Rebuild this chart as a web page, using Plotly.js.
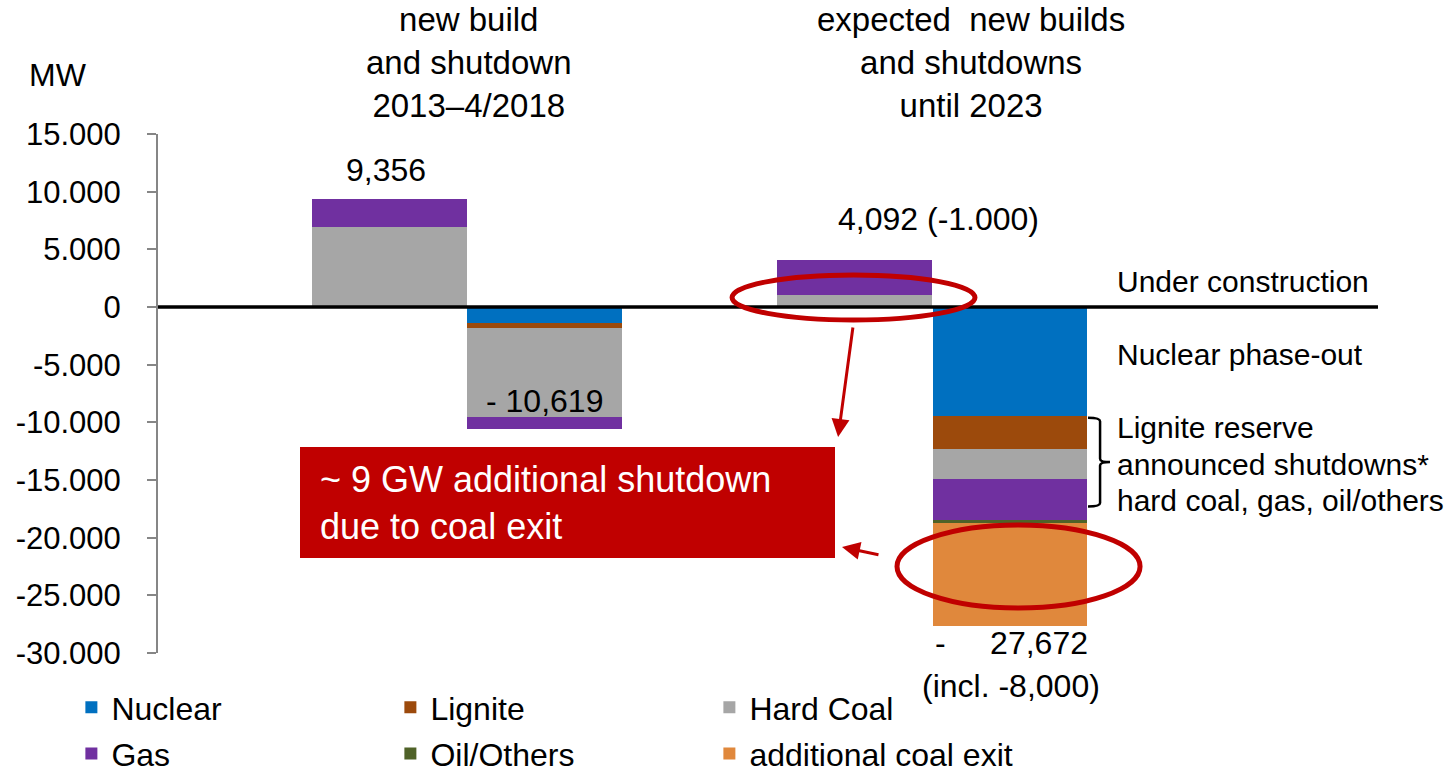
<!DOCTYPE html>
<html>
<head>
<meta charset="utf-8">
<script src="https://cdn.plot.ly/plotly-3.0.1.min.js"></script>
<style>
  html, body { margin: 0; padding: 0; background: #fff; }
  #grafico { width: 1446px; height: 774px; }
</style>
</head>
<body>
<div id="grafico"></div>
<script>
// posições das barras: 2013-4/2018 (novas, desligadas), até 2023 (novas, desligadas)
const barPos = [1, 2, 4, 5];

// MW por fonte em cada barra
const nuclear = [0, -1360, 0, -9450];
const lignite = [0, -430, 0, -2860];
const hardCoal = [6960, -7780, 1040, -2630];
const gas = [2396, -1049, 3052, -3530];
const oilOthers = [0, 0, 0, -230];
const coalExit = [0, 0, 0, -8972];

const seriesNames = ['Nuclear', 'Lignite', 'Hard Coal', 'Gas', 'Oil/Others', 'additional coal exit'];
const seriesColors = ['#0070C0', '#9C4A0C', '#A6A6A6', '#7030A0', '#4F6228', '#E0883C'];

const tickVals = [15000, 10000, 5000, 0, -5000, -10000, -15000, -20000, -25000, -30000];
const tickText = ['15.000', '10.000', '5.000', '0', '-5.000', '-10.000', '-15.000', '-20.000', '-25.000', '-30.000'];

const FONT = 'Liberation Sans, Arial, sans-serif';
const RED = '#C00000';

// as três primeiras séries na 1ª linha da legenda, as outras na 2ª
const data = [nuclear, lignite, hardCoal, gas, oilOthers, coalExit].map((vals, i) => ({
    x: barPos,
    y: vals,
    type: 'bar',
    name: seriesNames[i],
    legend: i < 3 ? 'legend' : 'legend2',
    width: 0.994,
    marker: { color: seriesColors[i], line: { width: 0 } },
    hoverinfo: 'none'
}));

const totals = barPos.map((_, j) => nuclear[j] + lignite[j] + hardCoal[j] + gas[j] + oilOthers[j] + coalExit[j]);

const txt = (text, x, y, extra) => Object.assign({
    text: text, x: x, y: y, xref: 'x', yref: 'y', showarrow: false,
    font: { family: FONT, size: 32, color: '#000' }
}, extra || {});

const rightFont = { family: FONT, size: 30, color: '#000' };
const titleFont = { family: FONT, size: 33, color: '#000' };

const annotations = [
    // títulos das colunas
    txt('new build<br>and shutdown<br>2013–4/2018', 1.51, 1.137, { yref: 'paper', yanchor: 'middle', font: titleFont }),
    txt('expected\u00A0 new builds<br>and shutdowns<br>until 2023', 4.75, 1.137, { yref: 'paper', yanchor: 'middle', font: titleFont }),
    txt('MW', -0.107, 1.114, { xref: 'paper', yref: 'paper', xanchor: 'left', yanchor: 'middle' }),
    // totais
    txt('9,356', 0.98, totals[0], { yshift: 29 }),
    txt('- 10,619', 2, totals[1], { yshift: 28 }),
    txt('4,092 (-1.000)', 4.54, totals[2], { yshift: 41 }),
    txt('-\u00A0\u00A0\u00A0\u00A0 27,672', 5.01, totals[3], { yshift: -17 }),
    txt('(incl. -8,000)', 5.01, totals[3], { yshift: -60 }),
    // textos à direita
    txt('Under construction', 5.68, 2254, { xanchor: 'left', font: rightFont }),
    txt('Nuclear phase-out', 5.68, -4075, { xanchor: 'left', font: rightFont }),
    txt('Lignite reserve', 5.68, -10405, { xanchor: 'left', font: rightFont }),
    txt('announced shutdowns*', 5.68, -13613, { xanchor: 'left', font: rightFont }),
    txt('hard coal, gas, oil/others', 5.68, -16735, { xanchor: 'left', font: rightFont }),
    // caixa vermelha
    txt('~ 9 GW additional shutdown<br>due to coal exit', 0.539, -17000, { xanchor: 'left', align: 'left', font: { family: FONT, size: 36, color: '#fff' } }),
    // setas
    { x: 3.894, y: -11272, xref: 'x', yref: 'y', text: '', showarrow: true, arrowhead: 2, arrowsize: 1.2, arrowwidth: 3, arrowcolor: RED, ax: 15, ay: -111 },
    { x: 3.919, y: -20810, xref: 'x', yref: 'y', text: '', showarrow: true, arrowhead: 2, arrowsize: 1.2, arrowwidth: 3, arrowcolor: RED, ax: 38, ay: 8 }
];

const shapes = [
    // linha do zero
    { type: 'line', xref: 'paper', yref: 'y', x0: 0, x1: 1, y0: 0, y1: 0, line: { color: '#000', width: 3.5 }, layer: 'above' },
    // caixa vermelha
    { type: 'rect', xref: 'x', yref: 'y', x0: 0.4226, x1: 3.874, y0: -12139, y1: -21764, fillcolor: RED, line: { width: 0 }, layer: 'above' },
    // elipses
    { type: 'circle', xref: 'x', yref: 'y', x0: 3.21, x1: 4.777, y0: 2775, y1: -1127, line: { color: RED, width: 5 }, layer: 'above' },
    { type: 'circle', xref: 'x', yref: 'y', x0: 4.274, x1: 5.842, y0: -18902, y1: -26099, line: { color: RED, width: 5 }, layer: 'above' },
    // chaveta
    { type: 'path', xref: 'x', yref: 'y', layer: 'above', line: { color: '#000', width: 2.5 },
      path: 'M5.506,-9600 Q5.584,-9600 5.584,-9900 L5.584,-13150 Q5.584,-13450 5.648,-13450 Q5.584,-13450 5.584,-13750 L5.584,-17000 Q5.584,-17300 5.506,-17300' }
];

const legendBase = {
    orientation: 'h', x: -0.071, xanchor: 'left', yanchor: 'top',
    entrywidth: 274, traceorder: 'normal', bgcolor: 'rgba(0,0,0,0)',
    font: { family: FONT, size: 32, color: '#000' }
};

const layout = {
    width: 1446,
    height: 774,
    margin: { l: 158, r: 68, t: 134, b: 121, autoexpand: false },
    barmode: 'relative',
    bargap: 0,
    showlegend: true,
    legend: Object.assign({}, legendBase, { y: -0.052 }),
    legend2: Object.assign({}, legendBase, { y: -0.141 }),
    xaxis: {
        range: [-0.4935, 7.377], showticklabels: false, showgrid: false, zeroline: false, showline: false, ticks: ''
    },
    yaxis: {
        range: [-30000, 15000], tickvals: tickVals, ticktext: tickText,
        showgrid: false, zeroline: false, showline: true, linecolor: '#868686', linewidth: 2,
        ticks: 'outside', ticklen: 9, tickwidth: 2, tickcolor: '#868686', ticklabelstandoff: 20,
        tickfont: { family: FONT, size: 31, color: '#000' }
    },
    annotations: annotations,
    shapes: shapes,
    plot_bgcolor: '#fff',
    paper_bgcolor: '#fff'
};

Plotly.newPlot('grafico', data, layout, { displayModeBar: false, staticPlot: true });
</script>
</body>
</html>
